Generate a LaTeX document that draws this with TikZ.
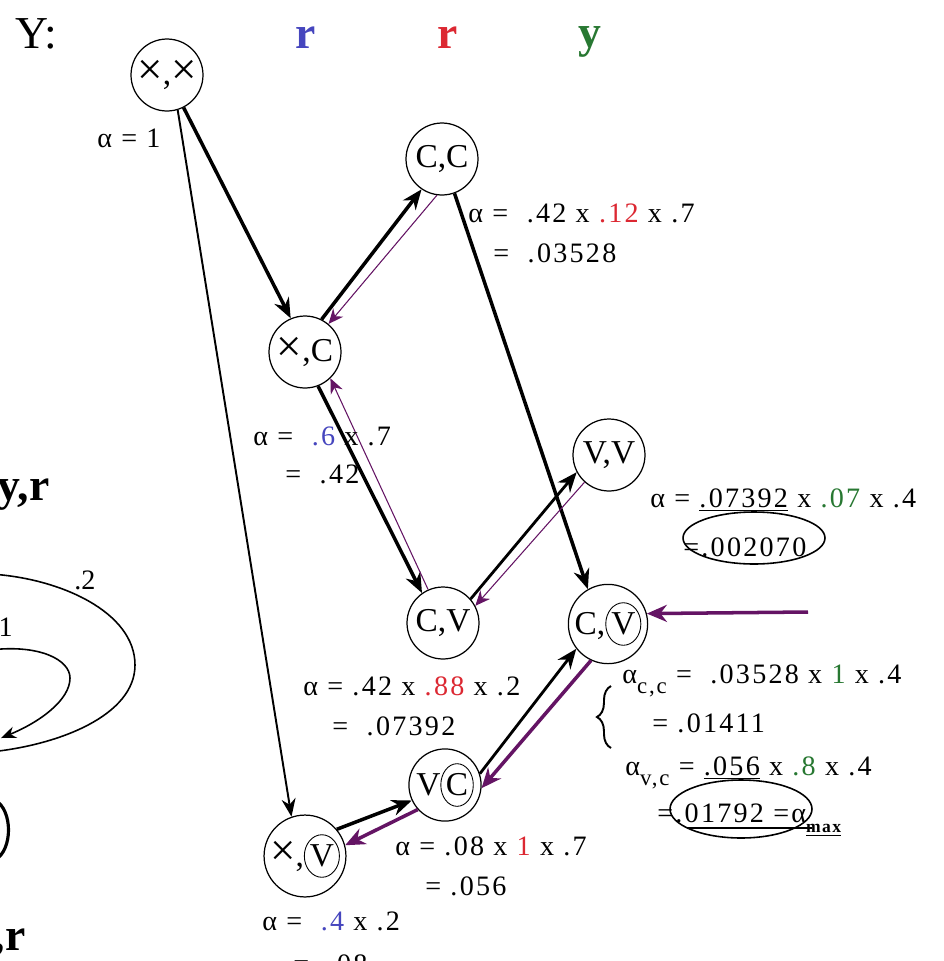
\documentclass[tikz,border=0pt]{standalone}
\usepackage{fontspec}
\setmainfont{Liberation Serif}
\newfontfamily\eqf[LetterSpace=8]{Liberation Serif}
\usetikzlibrary{arrows.meta,shapes.geometric,decorations.pathreplacing}
\definecolor{cblue}{RGB}{70,70,190}
\definecolor{cred}{RGB}{220,40,50}
\definecolor{cgreen}{RGB}{40,120,50}
\definecolor{cpur}{RGB}{100,20,100}
\newcommand{\encirc}[1]{\tikz[baseline=(enc.base)]\node[draw,ellipse,minimum width=0pt,minimum height=0pt,line width=0.5pt,inner xsep=0.2pt,inner ysep=2.2pt](enc){#1};}
\newcommand{\bigx}{\raisebox{0.5pt}{\scalebox{1.35}{×}}}
\begin{document}
\begin{tikzpicture}[x=0.02cm,y=-0.02cm,
  st/.style={draw,circle,minimum size=1.44cm,inner sep=0pt,line width=0.7pt,font=\fontsize{19}{19}\selectfont},
  eq/.style={anchor=base west,inner sep=0pt,font=\eqf\fontsize{16}{16}\selectfont},
  hd/.style={inner sep=0pt,anchor=base,font=\fontsize{26}{26}\selectfont\bfseries},
  blk/.style={line width=2pt,-{Stealth[length=0.4cm,width=0.32cm]}},
  blkthin/.style={line width=1.1pt,-{Stealth[length=0.36cm,width=0.28cm]}},
  pth/.style={draw=cpur,line width=0.6pt,-{Stealth[length=0.3cm,width=0.26cm]},cpur},
  pthk/.style={draw=cpur,line width=2pt,-{Stealth[length=0.4cm,width=0.34cm]},cpur},
  thinline/.style={line width=0.9pt}
]
\useasboundingbox (0,0) rectangle (944,961);
\fill[white] (0,0) rectangle (944,961);

% headers
\node[inner sep=0pt,anchor=base west,font=\fontsize{26}{26}\selectfont] (Yh) at (15,48) {Y:};
\node[hd,text=cblue] (h1) at (306,48) {r};
\node[hd,text=cred] (h2) at (448,48) {r};
\node[hd,text=cgreen] (h3) at (590,47) {y};

% left partial content
\node[hd,anchor=base east] (yr) at (50,500) {y,r};
\node[hd,anchor=base east] (rr) at (26,950) {,r};
\node[inner sep=0pt,font=\fontsize{16}{16}\selectfont] (l2) at (85,580) {.2};
\node[inner sep=0pt,anchor=east,font=\fontsize{16}{16}\selectfont] (l1) at (13,627) {.1};
\draw[thinline] (-10,574) .. controls (60,578) and (135,612) .. (135,665) .. controls (135,715) and (60,745) .. (-10,752);
\draw[thinline,-{Stealth[length=0.3cm,width=0.24cm]}] (-10,650) .. controls (40,644) and (70,660) .. (70,678) .. controls (70,700) and (40,722) .. (1,738);
\draw[line width=1.8pt] (-5,800) .. controls (13,810) and (13,850) .. (-5,860);

% states
\node[st] (xx) at (167,75) {\bigx,\bigx};
\node[st] (cc) at (442,159) {C,C};
\node[st] (xc) at (305,352) {\bigx,C};
\node[st] (vv) at (609,455) {V,V};
\node[st] (cv) at (443,623) {C,V};
\node[st] (cV) at (608,624) {C,\encirc{V}};
\node[st] (vC) at (445,785) {V\encirc{C}};
\node[st] (xV) at (305,856) {\bigx,\encirc{V}};

% forward transitions
\draw[blk] (xx.297) -- (xc.113);
\draw[blkthin] (xx.287) -- (xV.109);
\draw[blk] (xc.63) -- (cc.236);
\draw[blk] (cc.290) -- (cV.120);
\draw[blk] (xc.291) -- (cv.125);
\draw[blk,line width=1.6pt] (cv.41) -- (vv.208);
\draw[blk,line width=1.6pt] (vC.18) -- (cV.218);
\draw[blk] (xV.40) -- (vC.205);

% back pointers
\draw[pth] (cc.262) -- (xc.50);
\draw[pth] (cv.114) -- (xc.314);
\draw[pth] (vv.228) -- (cv.28);
\draw[pthk] (cV.245) -- (vC.355);
\draw[pthk] (vC.222) -- (xV.15);
\coordinate (fr) at (808,612);
\draw[pthk] (fr) -- (cV.15);

% alpha values
\node[eq] (a1) at (97,147) {α = 1};
\node[eq] (a2) at (468,222) {α = \ .42 x {\color{cred}.12} x .7};
\node[eq] (a2b) at (493,262) {= \ .03528};
\node[eq] (a3) at (253,445) {α = \ {\color{cblue}.6} x .7};
\node[eq] (a3b) at (285,483) {= \ .42};
\node[eq] (a4) at (650,507) {α = \underline{.07392} x {\color{cgreen}.07} x .4};
\node[eq] (a4b) at (683,556) {=.002070};
\draw[thinline] (754,538) ellipse [x radius=1.42cm, y radius=0.52cm];
\node[eq] (a5) at (303,695) {α = .42 x {\color{cred}.88} x .2};
\node[eq] (a5b) at (332,735) {= \ .07392};
\node[eq] (a6) at (395,855) {α = .08 x {\color{cred}1} x .7};
\node[eq] (a6b) at (425,895) {= .056};
\node[eq] (a7) at (262,930) {α = \ {\color{cblue}.4} x .2};
\node[eq] (a7b) at (293,973) {= \ .08};
\node[eq] (a8) at (622,683) {α\raisebox{-6pt}{\fontsize{13}{13}\selectfont c,c} = \ .03528 x {\color{cgreen}1} x .4};
\draw[decorate,decoration={brace,amplitude=8pt},line width=1.1pt] (611,748) -- (611,686);
\node[eq] (a8b) at (652,732) {= .01411};
\node[eq] (a9) at (625,775) {α\raisebox{-6pt}{\fontsize{13}{13}\selectfont v,c} = \underline{.056} x {\color{cgreen}.8} x .4};
\node[eq] (a9b) at (657,822) {=.01792 =α\raisebox{-6pt}{\fontsize{10}{10}\selectfont\bfseries\underline{max}}};
\draw[thinline] (741,809) ellipse [x radius=1.42cm, y radius=0.58cm];
\draw[thinline] (687,828) -- (812,828);
\end{tikzpicture}
\end{document}
